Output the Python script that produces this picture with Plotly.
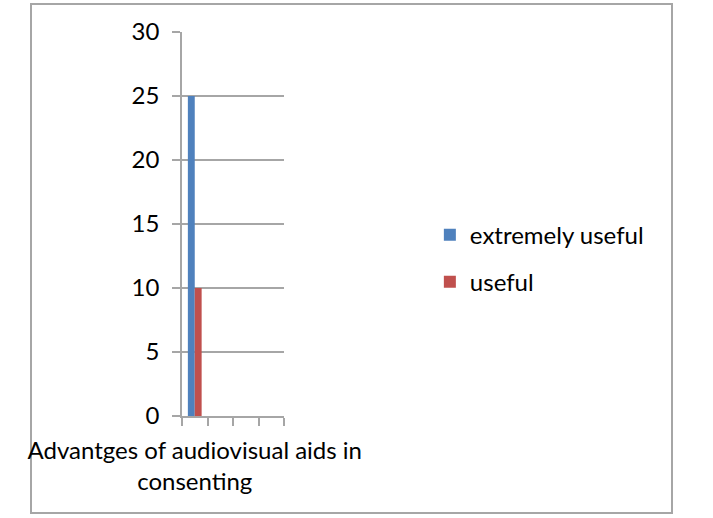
import plotly.graph_objects as go

categories = ["Advantges of audiovisual aids in<br>consenting"]
series_names = ["extremely useful", "useful"]
extremely_useful = [25]
useful = [10]
y_ticks = [0, 5, 10, 15, 20, 25, 30]

colors = ["#4F81BD", "#C0504D"]
grid = "#A6A6A6"
font_family = "Lato, 'Open Sans', sans-serif"

x_pos = list(range(len(categories)))

fig = go.Figure()
for i, (name, vals) in enumerate(zip(series_names, [extremely_useful, useful])):
    fig.add_trace(go.Bar(
        x=x_pos, y=vals, name=name, marker_color=colors[i],
        marker_line_width=0, legendgroup=name,
    ))

fig.update_layout(
    width=713, height=518,
    margin=dict(l=182, r=429, t=32, b=102),
    paper_bgcolor="white", plot_bgcolor="white",
    barmode="group", bargap=0.46, bargroupgap=0,
    font=dict(family=font_family, size=24, color="black"),
    showlegend=True,
    legend=dict(x=2.43, y=0.41, xanchor="left", yanchor="middle",
                font=dict(size=24), tracegroupgap=13, itemclick=False,
                bgcolor="rgba(0,0,0,0)"),
    xaxis=dict(range=[-0.5, 3.5], tickvals=x_pos, ticktext=categories,
               ticks="", showgrid=False, zeroline=False,
               showline=True, linecolor=grid, linewidth=1.5,
               tickfont=dict(size=24), ticklabelstandoff=12,
               minor=dict(ticks="outside", tick0=-0.5, dtick=1, ticklen=8,
                          tickcolor=grid, tickwidth=1.5, showgrid=False)),
    yaxis=dict(range=[0, 30], tickvals=y_ticks, showgrid=True, gridcolor=grid,
               gridwidth=1.5, zeroline=False, showline=True, linecolor=grid,
               linewidth=1.5, ticks="outside", ticklen=8, tickcolor=grid,
               tickwidth=1.5, ticklabelstandoff=8, tickfont=dict(size=24)),
    shapes=[dict(type="rect", xref="paper", yref="paper",
                 x0=(31 - 182) / 102, x1=(672 - 182) / 102,
                 y0=(416 - 513) / 384, y1=(416 - 4) / 384,
                 line=dict(color="#A6A6A6", width=2), layer="below")],
)

fig.write_html("out.html")
